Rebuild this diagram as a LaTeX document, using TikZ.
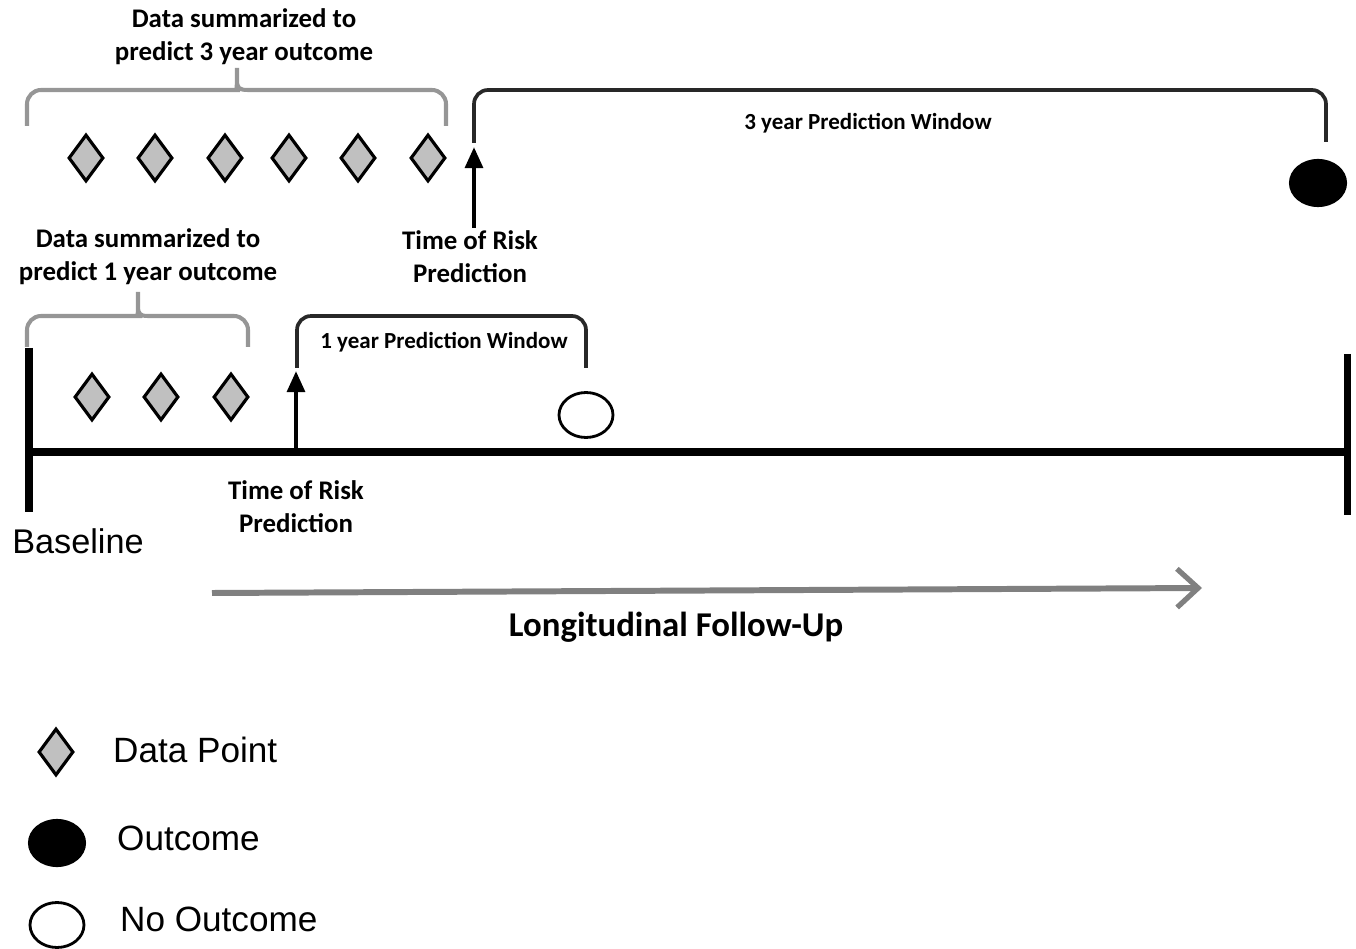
\documentclass[tikz,border=0pt]{standalone}
\usepackage{fontspec}
\setmainfont{Carlito}
\newfontfamily\arialfont{Liberation Sans}
\usetikzlibrary{shapes.geometric, positioning, arrows.meta}

\definecolor{pointgray}{RGB}{192,192,192}
\definecolor{bracegray}{RGB}{150,150,150}
\definecolor{windowgray}{RGB}{40,40,40}
\definecolor{followgray}{RGB}{128,128,128}

\begin{document}
\begin{tikzpicture}[
        x=0.02cm, y=-0.02cm,
        datapoint/.style={
            diamond, draw=black, fill=pointgray,
            line width=1.8pt, inner sep=0pt,
            minimum width=0.7cm, minimum height=0.94cm
        },
        outcome/.style={
            ellipse, draw=black, fill=black, line width=1.2pt,
            minimum width=1.12cm, minimum height=0.92cm, inner sep=0pt
        },
        nooutcome/.style={
            ellipse, draw=black, fill=white, line width=1.6pt,
            minimum width=1.08cm, minimum height=0.9cm, inner sep=0pt
        },
        label/.style={font=\fontsize{15.3}{18.7}\selectfont\bfseries, align=center},
        winlabel/.style={font=\fontsize{13.1}{15}\selectfont\bfseries},
        legend/.style={font=\arialfont\fontsize{20}{23}\selectfont, anchor=west},
        databrace/.style={draw=bracegray, line width=2.3pt},
        window/.style={draw=windowgray, line width=2.1pt, rounded corners=8},
        riskarrow/.style={draw=black, line width=2.5pt, -{Triangle[width=10pt,length=12pt]}},
        timeline/.style={draw=black, line width=4pt}
    ]
        \useasboundingbox (0,0) rectangle (1356,949);

        % Data points - 3 year
        \foreach \px [count=\i] in {86,155,225,289,358,428}
            \node[datapoint] (P3\i) at (\px,158) {};

        % Data points - 1 year
        \foreach \px [count=\i] in {92,161,231}
            \node[datapoint] (P1\i) at (\px,397) {};

        % Outcomes
        \node[outcome] (O3) at (1318,183) {};
        \node[nooutcome] (O1) at (586,415) {};

        % Labels
        \node[label] (sum3) at (244,37) {Data summarized to\\predict 3 year outcome};
        \node[label] (sum1) at (148,257) {Data summarized to\\predict 1 year outcome};
        \node[label] (risk3) at (470,257) {Time of Risk\\Prediction};
        \node[label] (risk1) at (296,507) {Time of Risk\\Prediction};
        \node[winlabel] (win3) at (868,123) {3 year Prediction Window};
        \node[winlabel] (win1) at (444,342) {1 year Prediction Window};
        \node[font=\arialfont\fontsize{19.5}{23}\selectfont] (base) at (78,541) {Baseline};
        \node[font=\fontsize{19.8}{23}\selectfont\bfseries] (follow) at (676,627) {Longitudinal Follow-Up};

        % Timeline
        \coordinate (T0) at (28,452);
        \coordinate (T1) at (1348,452);
        \draw[timeline] (T0) -- (T1);
        \draw[timeline] (29,348) -- (29,512);
        \draw[timeline] (1347,354) -- (1347,515);

        % Data summary braces
        \draw[databrace] (27,126) [rounded corners=8] |- (226,90) [sharp corners]
            .. controls (235,90) and (237,88) .. (237,80) -- (237,68) -- (237,80)
            .. controls (237,88) and (239,90) .. (248,90)
            [rounded corners=8] -| (446,126);
        \draw[databrace] (27,347) [rounded corners=8] |- (128,316) [sharp corners]
            .. controls (136,316) and (138,314) .. (138,306) -- (138,292) -- (138,306)
            .. controls (138,314) and (140,316) .. (148,316)
            [rounded corners=8] -| (248,347);

        % Prediction windows
        \draw[window] (474,143) |- (1326,90) -- (1326,142);
        \draw[window] (297,368) |- (586,316) -- (586,368);

        % Time of risk prediction arrows
        \coordinate (R3a) at (474,228);
        \coordinate (R3b) at (474,147);
        \coordinate (R1a) at (296,452);
        \coordinate (R1b) at (296,371);
        \draw[riskarrow] (R3a) -- (R3b);
        \draw[riskarrow] (R1a) -- (R1b);

        % Follow-up arrow
        \coordinate (F0) at (212,593);
        \coordinate (F1) at (1202,588);
        \draw[draw=followgray, line width=3.4pt, -{Straight Barb[length=12pt,width=22pt,line width=3pt]}] (F0) -- (F1);

        % Legend
        \node[datapoint] (LP) at (56,752) {};
        \node[outcome] (LO) at (57,843) {};
        \node[nooutcome] (LN) at (57,925) {};
        \node[legend] (LPt) at (107,750) {Data Point};
        \node[legend] (LOt) at (111,838) {Outcome};
        \node[legend] (LNt) at (114,919) {No Outcome};
    \end{tikzpicture}
\end{document}
